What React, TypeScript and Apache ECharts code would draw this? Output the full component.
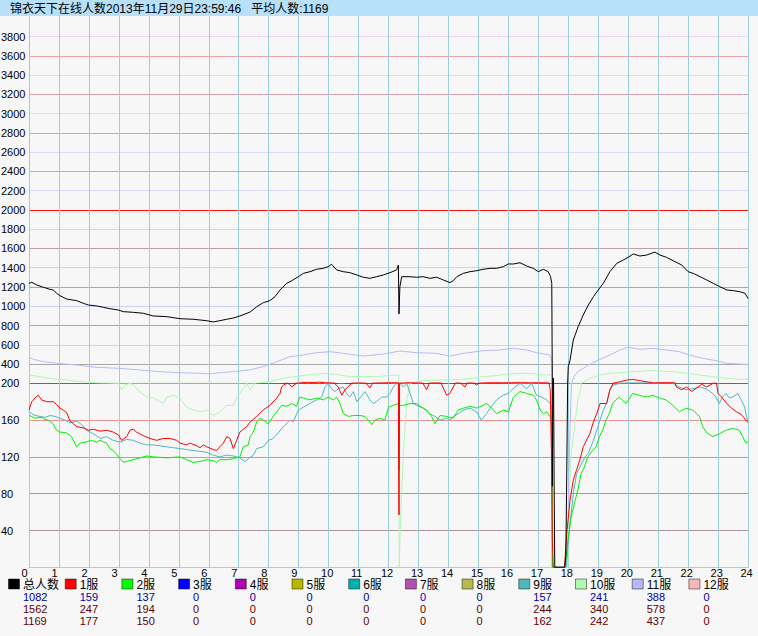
import React, { useEffect, useRef } from "react";
import * as echarts from "echarts";

const TITLE = "锦衣天下在线人数2013年11月29日23:59:46   平均人数:1169";

const legendNames = ["总人数", "1服", "2服", "3服", "4服", "5服", "6服", "7服", "8服", "9服", "10服", "11服", "12服"];
const legendColors = ["#000000", "#ff0000", "#00ff00", "#0000ff", "#b000b0", "#b8b800", "#00b0b0", "#b050b0", "#b8b850", "#50b8b8", "#b0f8b0", "#b8b8f8", "#f8b8b8"];
const currentRow = [1082, 159, 137, 0, 0, 0, 0, 0, 0, 157, 241, 388, 0];
const maxRow = [1562, 247, 194, 0, 0, 0, 0, 0, 0, 244, 340, 578, 0];
const avgRow = [1169, 177, 150, 0, 0, 0, 0, 0, 0, 162, 242, 437, 0];

const hourTicks = [0, 1, 2, 3, 4, 5, 6, 7, 8, 9, 10, 11, 12, 13, 14, 15, 16, 17, 18, 19, 20, 21, 22, 23, 24];
const upperTickValues = [200, 400, 600, 800, 1000, 1200, 1400, 1600, 1800, 2000, 2200, 2400, 2600, 2800, 3000, 3200, 3400, 3600, 3800];
const upperTickColors = ["#1e9e1e", "#a8a8a8", "#ccd2f8", "#a8a8a8", "#ccd2f8", "#a8a8a8", "#ccd2f8", "#b8a2a8", "#d0d4f8", "#ff1010", "#dcd8f8", "#d6a2aa", "#e4d8f6", "#d6a2aa", "#e4d8f6", "#d8a2aa", "#e8d8f6", "#eca2aa", "#eed6f4"];
const lowerTickValues = [40, 80, 120, 160];
const lowerTickColors = ["#b09292", "#b89292", "#d09494", "#e89494"];

type Pt = [number, number];

const totalPlayers: Pt[] = [
  [0, 1238], [0.09, 1249], [0.26, 1221], [0.48, 1197], [0.7, 1176], [0.81, 1169], [0.92, 1135], [1.03, 1110], [1.26, 1075], [1.59, 1058],
  [1.81, 1031], [1.98, 1013], [2.26, 1003], [2.48, 989], [2.7, 975], [2.98, 961], [3.15, 944], [3.48, 937], [3.82, 927], [4.15, 899],
  [4.6, 892], [5.04, 871], [5.48, 865], [5.93, 850], [6.15, 837], [6.37, 850], [6.6, 865], [6.82, 878], [7.04, 899], [7.38, 940],
  [7.6, 995], [7.82, 1037], [8.04, 1058], [8.21, 1099], [8.38, 1169], [8.6, 1238], [8.77, 1265], [8.99, 1307], [9.16, 1342], [9.38, 1359],
  [9.6, 1384], [9.82, 1394], [9.99, 1411], [10.1, 1436], [10.27, 1377], [10.49, 1359], [10.71, 1349], [10.94, 1325], [11.16, 1301], [11.38, 1290],
  [11.6, 1307], [11.83, 1325], [12.05, 1349], [12.27, 1377], [12.33, 1428], [12.35, 920], [12.38, 1203], [12.44, 1307], [12.72, 1307], [12.94, 1301],
  [13.16, 1307], [13.38, 1290], [13.61, 1301], [13.83, 1273], [14.05, 1245], [14.16, 1265], [14.28, 1307], [14.5, 1342], [14.72, 1359], [14.94, 1369],
  [15.16, 1384], [15.39, 1394], [15.61, 1394], [15.83, 1411], [16.0, 1439], [16.17, 1439], [16.39, 1452], [16.61, 1418], [16.83, 1394], [17.0, 1359],
  [17.17, 1384], [17.33, 1359], [17.41, 1307], [17.45, 1238], [17.47, 88], [17.5, 255], [17.53, 88], [17.55, 0], [17.88, 0], [17.92, 12],
  [17.95, 102], [17.98, 200], [18.0, 372], [18.06, 442], [18.17, 650], [18.33, 788], [18.5, 909], [18.67, 1013], [18.84, 1099], [19.0, 1169],
  [19.17, 1238], [19.39, 1359], [19.62, 1446], [19.84, 1480], [20.0, 1508], [20.17, 1543], [20.39, 1522], [20.62, 1532], [20.89, 1562], [21.06, 1532],
  [21.28, 1508], [21.5, 1473], [21.79, 1428], [22.0, 1359], [22.17, 1342], [22.4, 1307], [22.62, 1273], [22.84, 1238], [23.06, 1203], [23.29, 1169],
  [23.51, 1162], [23.73, 1151], [23.9, 1134], [24, 1082],
];

const server1: Pt[] = [
  [0, 171], [0.09, 180], [0.2, 184], [0.31, 187], [0.42, 182], [0.59, 180], [0.81, 180], [0.92, 177], [1.03, 173], [1.14, 171],
  [1.26, 168], [1.37, 159], [1.48, 156], [1.59, 153], [1.87, 151], [1.98, 149], [2.15, 150], [2.37, 148], [2.59, 149], [2.81, 147],
  [2.98, 144], [3.09, 138], [3.26, 142], [3.37, 149], [3.48, 150], [3.59, 147], [3.7, 145], [3.82, 143], [4.04, 140], [4.26, 138],
  [4.48, 140], [4.71, 140], [4.93, 138], [5.04, 135], [5.26, 133], [5.37, 135], [5.6, 132], [5.71, 130], [5.82, 133], [5.93, 131],
  [6.15, 128], [6.26, 127], [6.37, 131], [6.49, 135], [6.6, 142], [6.71, 140], [6.82, 129], [6.93, 138], [7.04, 147], [7.15, 150],
  [7.27, 153], [7.38, 158], [7.6, 164], [7.82, 171], [8.04, 176], [8.27, 184], [8.38, 189], [8.43, 196], [8.54, 199], [8.65, 200],
  [8.77, 196], [8.93, 200], [9.1, 206], [9.3, 210], [9.5, 208], [9.7, 212], [9.9, 206], [10.1, 204], [10.2, 200], [10.32, 196],
  [10.44, 187], [10.55, 193], [10.77, 200], [11.0, 204], [11.2, 202], [11.38, 195], [11.5, 202], [11.8, 204], [12.1, 206], [12.33, 205],
  [12.34, 105], [12.35, 57], [12.37, 200], [12.6, 206], [12.9, 204], [13.1, 203], [13.27, 193], [13.4, 203], [13.7, 204], [13.94, 187],
  [14.05, 189], [14.16, 196], [14.3, 203], [14.55, 196], [14.7, 204], [14.94, 198], [15.2, 205], [15.5, 206], [15.8, 205], [16.1, 206],
  [16.4, 207], [16.7, 205], [17.0, 206], [17.33, 204], [17.4, 193], [17.45, 102], [17.47, 30], [17.5, 0], [17.88, 0], [17.89, 8],
  [17.95, 37], [18.06, 73], [18.17, 95], [18.28, 106], [18.39, 117], [18.5, 131], [18.61, 138], [18.73, 146], [18.84, 158], [18.95, 167],
  [19.06, 178], [19.28, 178], [19.39, 193], [19.5, 200], [19.73, 216], [19.95, 234], [20.17, 240], [20.39, 227], [20.62, 216], [20.84, 204],
  [21.06, 206], [21.5, 206], [21.61, 196], [21.79, 193], [21.95, 196], [22.12, 191], [22.29, 195], [22.45, 199], [22.62, 196], [22.84, 200],
  [22.95, 200], [23.0, 189], [23.12, 185], [23.29, 178], [23.45, 173], [23.62, 169], [23.78, 166], [23.95, 159], [24, 159],
];

const server2: Pt[] = [
  [0, 165], [0.09, 164], [0.2, 162], [0.42, 163], [0.53, 161], [0.64, 160], [0.81, 156], [0.92, 149], [1.03, 147], [1.26, 146],
  [1.42, 142], [1.59, 131], [1.7, 135], [1.87, 136], [2.09, 138], [2.26, 136], [2.37, 138], [2.59, 135], [2.7, 129], [2.81, 127],
  [2.92, 123], [3.04, 118], [3.15, 114], [3.26, 115], [3.48, 117], [3.93, 121], [4.15, 120], [4.6, 119], [5.04, 120], [5.26, 117],
  [5.48, 114], [5.71, 115], [5.93, 117], [6.15, 116], [6.26, 114], [6.37, 117], [6.6, 117], [6.82, 118], [7.04, 120], [7.15, 131],
  [7.32, 133], [7.38, 142], [7.49, 147], [7.6, 158], [7.71, 162], [7.82, 160], [7.99, 156], [8.15, 164], [8.32, 171], [8.43, 176],
  [8.6, 175], [8.77, 178], [8.93, 175], [9.04, 185], [9.16, 184], [9.38, 182], [9.6, 184], [9.82, 182], [9.99, 185], [10.16, 182],
  [10.27, 185], [10.38, 178], [10.49, 167], [10.66, 164], [10.83, 165], [11.05, 165], [11.21, 164], [11.38, 158], [11.44, 155], [11.55, 160],
  [11.72, 162], [11.88, 160], [12.0, 174], [12.16, 176], [12.33, 178], [12.35, 105], [12.37, 176], [12.5, 176], [12.72, 178], [12.94, 178],
  [13.05, 175], [13.27, 171], [13.44, 164], [13.55, 156], [13.72, 165], [13.94, 164], [14.16, 162], [14.33, 171], [14.5, 173], [14.72, 175],
  [14.94, 173], [15.16, 176], [15.27, 178], [15.39, 175], [15.61, 167], [15.83, 171], [16.0, 169], [16.17, 185], [16.39, 191], [16.61, 189],
  [16.83, 187], [16.94, 182], [17.06, 171], [17.17, 167], [17.28, 169], [17.39, 164], [17.45, 160], [17.47, 0], [17.9, 0], [17.92, 8],
  [17.99, 30], [18.1, 55], [18.21, 70], [18.32, 84], [18.43, 102], [18.54, 109], [18.65, 120], [18.82, 127], [18.93, 131], [19.04, 142],
  [19.15, 149], [19.26, 160], [19.37, 167], [19.48, 178], [19.59, 182], [19.7, 185], [19.93, 178], [20.15, 189], [20.37, 187], [20.6, 185],
  [20.82, 187], [21.04, 184], [21.26, 182], [21.49, 176], [21.71, 169], [21.93, 173], [22.15, 171], [22.38, 164], [22.49, 153], [22.6, 147],
  [22.82, 142], [23.04, 145], [23.27, 149], [23.49, 151], [23.71, 149], [23.82, 142], [23.93, 135], [24, 137],
];

const server9: Pt[] = [
  [0, 169], [0.09, 167], [0.2, 165], [0.37, 164], [0.53, 163], [0.7, 165], [0.87, 164], [1.03, 162], [1.2, 160], [1.37, 157],
  [1.59, 159], [1.76, 155], [1.92, 149], [2.09, 146], [2.26, 143], [2.37, 140], [2.59, 142], [2.81, 138], [3.04, 136], [3.26, 139],
  [3.48, 138], [3.7, 135], [3.93, 133], [4.15, 133], [4.6, 131], [4.82, 130], [5.04, 129], [5.26, 128], [5.48, 127], [5.71, 126],
  [5.93, 125], [6.15, 122], [6.37, 120], [6.6, 122], [6.82, 121], [7.04, 119], [7.21, 115], [7.32, 118], [7.49, 122], [7.6, 129],
  [7.82, 131], [7.99, 138], [8.15, 140], [8.32, 146], [8.43, 151], [8.6, 156], [8.71, 160], [8.82, 158], [8.99, 171], [9.16, 174],
  [9.38, 178], [9.6, 182], [9.77, 185], [9.88, 196], [9.99, 200], [10.1, 194], [10.21, 191], [10.32, 194], [10.49, 196], [10.6, 189],
  [10.71, 185], [10.83, 191], [10.94, 180], [11.05, 184], [11.21, 191], [11.38, 182], [11.49, 178], [11.6, 180], [11.77, 185], [11.94, 185],
  [12.05, 189], [12.16, 196], [12.27, 200], [12.38, 200], [12.5, 196], [12.61, 200], [12.72, 189], [12.83, 178], [12.94, 176], [13.16, 173],
  [13.38, 167], [13.55, 164], [13.72, 160], [13.94, 162], [14.05, 160], [14.16, 164], [14.33, 167], [14.5, 171], [14.72, 173], [14.94, 169],
  [15.1, 160], [15.27, 167], [15.44, 175], [15.61, 182], [15.83, 187], [16.0, 189], [16.06, 191], [16.22, 196], [16.39, 200], [16.61, 194],
  [16.78, 200], [16.94, 187], [17.11, 185], [17.28, 182], [17.39, 178], [17.45, 175], [17.47, 0], [17.93, 0], [17.95, 8], [18.06, 48],
  [18.17, 80], [18.28, 102], [18.39, 109], [18.56, 120], [18.67, 124], [18.84, 138], [18.95, 149], [19.06, 160], [19.17, 171], [19.28, 178],
  [19.39, 193], [19.5, 198], [19.73, 200], [19.95, 203], [20.17, 205], [20.4, 203], [20.62, 205], [20.85, 200], [21.06, 203], [21.3, 202],
  [21.5, 200], [21.71, 196], [21.93, 193], [22.15, 194], [22.38, 196], [22.6, 194], [22.82, 189], [22.93, 185], [23.04, 178], [23.15, 185],
  [23.27, 189], [23.38, 184], [23.49, 185], [23.66, 189], [23.77, 182], [23.88, 175], [23.95, 164], [24, 157],
];

const server10: Pt[] = [
  [0, 286], [0.5, 262], [0.92, 242], [1.26, 234], [1.6, 222], [1.98, 210], [2.26, 204], [2.6, 201], [2.98, 200], [3.09, 193],
  [3.2, 198], [3.37, 200], [3.48, 198], [3.7, 191], [3.93, 185], [4.15, 184], [4.37, 180], [4.48, 178], [4.6, 185], [4.82, 187],
  [5.04, 184], [5.26, 174], [5.48, 171], [5.71, 169], [5.93, 171], [6.15, 165], [6.37, 169], [6.6, 176], [6.82, 176], [6.93, 184],
  [7.04, 189], [7.15, 194], [7.27, 200], [7.38, 193], [7.49, 198], [7.6, 202], [8.04, 216], [8.4, 245], [8.82, 269], [9.4, 290],
  [9.99, 304], [10.3, 290], [10.71, 269], [11.2, 272], [11.6, 269], [12.0, 280], [12.27, 286], [12.34, 286], [12.36, 0], [12.38, 30],
  [12.42, 66], [12.5, 124], [12.61, 182], [12.72, 200], [12.94, 216], [13.2, 230], [13.61, 234], [14.0, 236], [14.4, 240], [14.8, 252],
  [15.16, 269], [15.6, 280], [16.0, 296], [16.4, 304], [16.8, 300], [17.1, 290], [17.4, 286], [17.45, 270], [17.47, 0], [17.98, 0],
  [18.0, 20], [18.06, 102], [18.1, 124], [18.21, 153], [18.32, 182], [18.43, 196], [18.54, 217], [18.71, 252], [19.06, 286], [19.39, 304],
  [19.73, 310], [20.17, 321], [20.72, 331], [21.06, 328], [21.5, 321], [21.93, 304], [22.38, 286], [22.82, 269], [23.27, 252], [23.71, 242],
  [24, 241],
];

const server11: Pt[] = [
  [0, 470], [0.15, 449], [0.48, 424], [0.92, 408], [1.59, 390], [2.26, 366], [2.98, 356], [3.7, 338], [4.37, 321], [5.04, 310],
  [5.71, 304], [6.04, 297], [6.37, 310], [6.82, 321], [7.38, 340], [7.82, 373], [8.27, 424], [8.71, 476], [9.16, 494], [9.6, 518],
  [10.05, 528], [10.49, 511], [11.16, 483], [11.83, 504], [12.38, 535], [12.94, 518], [13.61, 511], [14.05, 483], [14.5, 511], [15.16, 539],
  [15.72, 546], [16.17, 563], [16.61, 546], [16.94, 518], [17.39, 494], [17.45, 430], [17.47, 0], [17.97, 0], [17.98, 5], [18.01, 84],
  [18.06, 153], [18.1, 193], [18.19, 269], [18.32, 321], [18.5, 356], [18.78, 408], [19.06, 449], [19.39, 494], [19.73, 546], [20.0, 574],
  [20.39, 553], [20.84, 563], [21.28, 546], [21.71, 528], [22.04, 494], [22.49, 459], [22.93, 435], [23.27, 408], [23.71, 400], [23.95, 397],
  [24, 388],
];

const plotted = [
  { name: "11服", data: server11, color: "#b8b8f8", clampUpper: false },
  { name: "10服", data: server10, color: "#b2f6b2", clampUpper: true },
  { name: "9服", data: server9, color: "#50b6be", clampUpper: false },
  { name: "2服", data: server2, color: "#00f000", clampUpper: false },
  { name: "1服", data: server1, color: "#ff0000", clampUpper: false },
  { name: "总人数", data: totalPlayers, color: "#000000", clampUpper: false },
];

const FONT = "'Liberation Sans', 'Noto Sans CJK SC', sans-serif";

function gridMarkSeries(xi: number, values: number[], colors: string[]) {
  return {
    type: "line",
    xAxisIndex: xi,
    yAxisIndex: xi,
    data: [],
    silent: true,
    markLine: {
      silent: true,
      symbol: ["none", "none"],
      label: { show: false },
      animation: false,
      data: [
        ...values.map((v, i) => ({ yAxis: v, lineStyle: { color: colors[i], width: 1, type: "solid" } })),
        ...hourTicks.map((h) => ({ xAxis: h, lineStyle: { color: "#9ccfd9", width: 1, type: "solid" } })),
      ],
    },
  };
}

export default function App() {
  const ref = useRef<HTMLDivElement>(null);
  useEffect(() => {
    const chart = echarts.init(ref.current!, null, { renderer: "svg" });
    const series: any[] = [
      gridMarkSeries(0, upperTickValues, upperTickColors),
      gridMarkSeries(1, lowerTickValues, lowerTickColors),
    ];
    plotted.forEach((p) => {
      const upper = p.clampUpper
        ? p.data.map(([h, v]) => [h, v >= 100 ? Math.max(v, 200) : v])
        : p.data;
      series.push({
        name: p.name + "上",
        type: "line",
        xAxisIndex: 0,
        yAxisIndex: 0,
        data: upper,
        showSymbol: false,
        symbol: "none",
        clip: true,
        silent: true,
        z: 10,
        lineStyle: { color: p.color, width: 1 },
      });
      series.push({
        name: p.name + "下",
        type: "line",
        xAxisIndex: 1,
        yAxisIndex: 1,
        data: p.data,
        showSymbol: false,
        symbol: "none",
        clip: true,
        silent: true,
        z: 10,
        lineStyle: { color: p.color, width: 1 },
      });
    });

    const legendGraphics: any[] = [];
    legendNames.forEach((name, i) => {
      const x0 = 8 + i * 56.7;
      legendGraphics.push({
        type: "rect",
        shape: { x: x0 + 0.5, y: 579, width: 11, height: 10 },
        style: { fill: legendColors[i], stroke: "rgba(0,0,0,0.45)", lineWidth: 1 },
      });
      legendGraphics.push({
        type: "text",
        x: x0 + 15,
        y: 585,
        style: { text: name, fill: "#000", font: `12px ${FONT}`, lineHeight: 10, verticalAlign: "middle", align: "left" },
      });
      [currentRow, maxRow, avgRow].forEach((row, r) => {
        legendGraphics.push({
          type: "text",
          x: x0 + 15,
          y: 596.5 + r * 12,
          style: {
            text: String(row[i]),
            fill: r === 0 ? "#0000a0" : "#600000",
            font: `11px ${FONT}`,
            lineHeight: 10,
            verticalAlign: "middle",
            align: "left",
          },
        });
      });
    });

    const option: any = {
      animation: false,
      backgroundColor: "#f7f7f7",
      grid: [
        { left: 29, right: 10, top: 15.9, bottom: 636 - 383.3, outerBoundsMode: "none", containLabel: false },
        { left: 29, right: 10, top: 383.3, bottom: 636 - 567.3, outerBoundsMode: "none", containLabel: false },
      ],
      xAxis: [
        {
          gridIndex: 0, type: "value", min: 0, max: 24, interval: 1,
          axisLine: { show: false }, axisTick: { show: false }, axisLabel: { show: false }, splitLine: { show: false },
        },
        {
          gridIndex: 1, type: "value", min: 0, max: 24, interval: 1,
          axisLine: { show: true, lineStyle: { color: "#f8b0b0", width: 1 } },
          axisTick: { show: false },
          splitLine: { show: false },
          axisLabel: {
            show: true,
            margin: 1,
            align: "center",
            hideOverlap: false,
            formatter: (v: number) => `{a|${v}}`,
            rich: { a: { width: 15, height: 10, lineHeight: 10, align: "left", fontSize: 11, color: "#000", fontFamily: FONT } },
          },
        },
      ],
      yAxis: [
        {
          gridIndex: 0, type: "value", min: 200, max: 4015, interval: 200,
          axisLine: { show: false }, axisTick: { show: false }, splitLine: { show: false },
          axisLabel: {
            show: true, align: "left", margin: 28, fontSize: 11, color: "#000", fontFamily: FONT,
            formatter: (v: number) => (v % 200 === 0 && v <= 3800 ? String(v) : ""),
          },
        },
        {
          gridIndex: 1, type: "value", min: 0, max: 200, interval: 40,
          axisLine: { show: false }, axisTick: { show: false }, splitLine: { show: false },
          axisLabel: {
            show: true, align: "left", margin: 28, fontSize: 11, color: "#000", fontFamily: FONT,
            formatter: (v: number) => (v > 0 && v < 200 ? String(v) : ""),
          },
        },
      ],
      graphic: [
        { type: "rect", shape: { x: 0, y: 0, width: 758, height: 16 }, style: { fill: "#b8e0f8" }, z: 100 },
        {
          type: "text", x: 10, y: 8.5, z: 101,
          style: { text: TITLE, fill: "#000", font: `12px ${FONT}`, verticalAlign: "middle", align: "left" },
        },
        ...legendGraphics,
      ],
      series,
    };
    chart.setOption(option);
    return () => chart.dispose();
  }, []);
  return <div ref={ref} style={{ position: "fixed", left: 0, top: 0, width: 758, height: 636 }} />;
}
